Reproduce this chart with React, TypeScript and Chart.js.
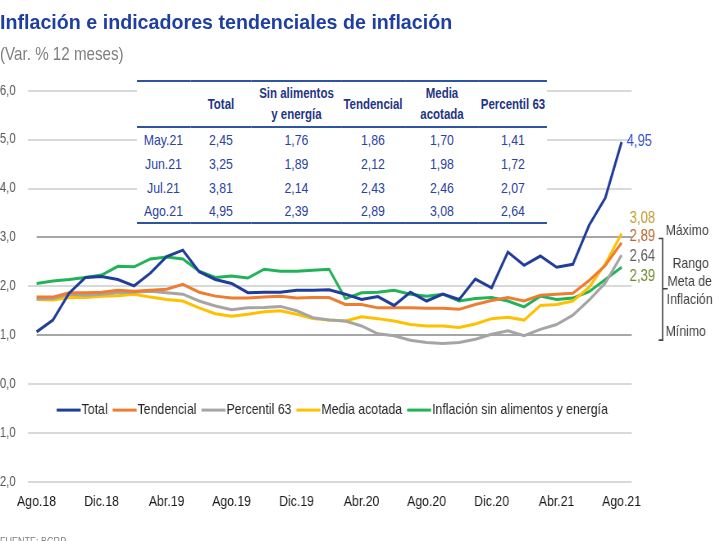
import React, { useEffect, useRef } from "react";
import { Chart, registerables } from "chart.js";
Chart.register(...registerables);

const FONT = "'Liberation Sans', Arial, sans-serif";

const months = ["Ago.18","Set.18","Oct.18","Nov.18","Dic.18","Ene.19","Feb.19","Mar.19","Abr.19","May.19","Jun.19","Jul.19","Ago.19","Set.19","Oct.19","Nov.19","Dic.19","Ene.20","Feb.20","Mar.20","Abr.20","May.20","Jun.20","Jul.20","Ago.20","Set.20","Oct.20","Nov.20","Dic.20","Ene.21","Feb.21","Mar.21","Abr.21","May.21","Jun.21","Jul.21","Ago.21"];
const tickIndices = [0, 4, 8, 12, 16, 20, 24, 28, 32, 36];

const total = [1.07,1.31,1.86,2.18,2.20,2.14,2.01,2.27,2.61,2.74,2.30,2.14,2.06,1.87,1.88,1.88,1.92,1.92,1.93,1.84,1.73,1.79,1.61,1.88,1.70,1.84,1.73,2.15,1.97,2.70,2.43,2.62,2.39,2.45,3.25,3.81,4.95];
const tendencial = [1.78,1.78,1.87,1.87,1.88,1.92,1.90,1.92,1.94,2.04,1.88,1.80,1.76,1.76,1.78,1.80,1.76,1.77,1.77,1.63,1.63,1.56,1.56,1.56,1.55,1.55,1.53,1.63,1.71,1.77,1.70,1.82,1.84,1.86,2.12,2.43,2.89];
const percentil63 = [1.74,1.75,1.84,1.82,1.84,1.87,1.88,1.90,1.87,1.84,1.70,1.60,1.52,1.56,1.57,1.59,1.50,1.36,1.31,1.29,1.19,1.03,0.99,0.90,0.85,0.83,0.85,0.92,1.02,1.09,0.99,1.12,1.22,1.41,1.72,2.07,2.64];
const mediaAcotada = [1.73,1.72,1.77,1.77,1.80,1.81,1.84,1.78,1.73,1.70,1.56,1.44,1.39,1.43,1.48,1.50,1.43,1.34,1.31,1.29,1.38,1.34,1.29,1.22,1.19,1.19,1.16,1.23,1.34,1.37,1.31,1.61,1.63,1.70,1.98,2.46,3.08];
const sinAlimentos = [2.06,2.11,2.14,2.18,2.23,2.41,2.40,2.56,2.60,2.56,2.31,2.18,2.21,2.17,2.35,2.31,2.31,2.33,2.35,1.75,1.87,1.88,1.92,1.84,1.80,1.84,1.70,1.75,1.77,1.70,1.58,1.80,1.73,1.76,1.89,2.14,2.39];

const seriesLabels = ["Total", "Tendencial", "Percentil 63", "Media acotada", "Inflación sin alimentos y energía"];
const tableHeaders = ["Total", "Sin alimentos|y energía", "Tendencial", "Media|acotada", "Percentil 63"];
const tableRowCount = 4;
const targetMax = 3;
const targetMin = 1;

const seriesData = [total, tendencial, percentil63, mediaAcotada, sinAlimentos];
const tableSeries = [total, sinAlimentos, tendencial, mediaAcotada, percentil63];
const lineColors = ["#1F3D99", "#ED7D31", "#A5A5A5", "#FFC000", "#22B257"];
const valueColors = ["#3350C8", "#B8692F", "#5E5E5E", "#C29A2C", "#6E8A2C"];
const valueDy = [0, -6, 2, -14.5, 9];

const fmt = (v: number, d: number) => v.toFixed(d).replace(".", ",");

// horizontal condensation (narrow-font look)
const S = 0.82;
const P = (v: number) => v / S;
const OFF = 30;
const CW = Math.round((725 + OFF) / S);
const CH = 541;

const overlay = {
  id: "overlay",
  beforeDatasetsDraw(chart: any) {
    const { ctx, chartArea, scales } = chart;
    const x = scales.x, y = scales.y;
    ctx.save();
    ctx.strokeStyle = "#A6A6A6";
    ctx.lineWidth = 2;
    [targetMax, targetMin].forEach((v) => {
      const py = Math.round(y.getPixelForValue(v));
      ctx.beginPath();
      ctx.moveTo(x.getPixelForValue(0), py);
      ctx.lineTo(chartArea.right, py);
      ctx.stroke();
    });
    ctx.restore();
  },
  afterDatasetsDraw(chart: any) {
    const { ctx, chartArea, scales } = chart;
    const x = scales.x, y = scales.y;
    ctx.save();
    // legend
    ctx.font = `15px ${FONT}`;
    ctx.textBaseline = "middle";
    ctx.textAlign = "left";
    let lx = chartArea.left + P(29);
    const ly = y.getPixelForValue(-0.53);
    seriesLabels.forEach((lab, i) => {
      ctx.strokeStyle = lineColors[i];
      ctx.lineWidth = 3;
      ctx.beginPath();
      ctx.moveTo(lx, ly);
      ctx.lineTo(lx + P(24), ly);
      ctx.stroke();
      lx += P(25);
      ctx.fillStyle = "#262626";
      ctx.fillText(lab, lx, ly);
      lx += ctx.measureText(lab).width + P(5);
    });
    // last values
    ctx.font = `16px ${FONT}`;
    const lastIdx = months.length - 1;
    const px = x.getPixelForValue(lastIdx);
    seriesData.forEach((arr, i) => {
      const v = arr[lastIdx];
      ctx.fillStyle = valueColors[i];
      ctx.fillText(fmt(v, 2), px + P(i === 0 ? 5 : 8), y.getPixelForValue(v) + valueDy[i]);
    });
    // bracket
    const bx = chartArea.right + P(31);
    const yTop = y.getPixelForValue(targetMax) + 1;
    const yBot = y.getPixelForValue(targetMin - 0.1);
    const yMid = y.getPixelForValue((targetMax + targetMin) / 2 - 0.05);
    ctx.strokeStyle = "#404040";
    ctx.lineWidth = 1.6;
    ctx.beginPath();
    ctx.moveTo(bx - P(4), yTop);
    ctx.lineTo(bx, yTop);
    ctx.lineTo(bx, yBot);
    ctx.lineTo(bx - P(4), yBot);
    ctx.moveTo(bx, yMid);
    ctx.lineTo(bx + P(5), yMid);
    ctx.stroke();
    ctx.fillStyle = "#404040";
    ctx.font = `15px ${FONT}`;
    ctx.textAlign = "left";
    ctx.fillText("Máximo", bx + P(3), y.getPixelForValue(targetMax) - 7);
    ctx.fillText("Mínimo", bx + P(3), y.getPixelForValue(targetMin) - 3.5);
    ctx.textAlign = "center";
    const y2 = y.getPixelForValue((targetMax + targetMin) / 2);
    ctx.fillText("Rango", bx + P(28), y2 - 22);
    ctx.fillText("Meta de", bx + P(27), y2 - 4);
    ctx.fillText("Inflación", bx + P(27), y2 + 14);
    ctx.restore();
  },
};

function DataTable() {
  const start = months.length - tableRowCount;
  const rows = Array.from({ length: tableRowCount }, (_, r) => start + r);
  const colW = [53, 62, 89, 64, 74, 68];
  const border = "2px solid #2F55A0";
  return (
    <table
      style={{
        position: "absolute", left: P(137), top: 80, width: P(410), borderCollapse: "collapse",
        tableLayout: "fixed", background: "#fff", fontFamily: FONT,
      }}
    >
      <colgroup>{colW.map((w, i) => <col key={i} style={{ width: P(w) }} />)}</colgroup>
      <thead>
        <tr style={{ height: 46, borderTop: border, borderBottom: border }}>
          <th style={{ padding: 0 }}></th>
          {tableHeaders.map((h, i) => (
            <th key={i} style={{ fontSize: 14, lineHeight: "21px", color: "#1F3585", fontWeight: "bold", padding: 0, textAlign: "center", whiteSpace: "nowrap" }}>
              {h.split("|").map((p, j) => <div key={j}>{p}</div>)}
            </th>
          ))}
        </tr>
      </thead>
      <tbody>
        {rows.map((idx, r) => (
          <tr key={r} style={{ height: 24, borderBottom: r === rows.length - 1 ? border : undefined }}>
            <td style={{ fontSize: 15, color: "#2B43A0", textAlign: "center", padding: 0 }}>{months[idx]}</td>
            {tableSeries.map((arr, c) => (
              <td key={c} style={{ fontSize: 15, color: "#2B43A0", textAlign: "center", padding: 0 }}>{fmt(arr[idx], 2)}</td>
            ))}
          </tr>
        ))}
      </tbody>
    </table>
  );
}

export default function App() {
  const ref = useRef<HTMLCanvasElement>(null);
  useEffect(() => {
    if (!ref.current) return;
    const chart = new Chart(ref.current, {
      type: "line",
      data: {
        datasets: seriesData.map((arr, i) => ({
          label: seriesLabels[i],
          data: arr.map((v, k) => ({ x: k, y: v })),
          borderColor: lineColors[i],
          backgroundColor: lineColors[i],
          borderWidth: 3,
          pointRadius: 0,
          tension: 0,
          fill: false,
        })),
      },
      options: {
        animation: false,
        responsive: false,
        devicePixelRatio: 1,
        layout: { padding: { left: 0, top: 90.7, right: CW - P(632 + OFF), bottom: 19 } },
        plugins: { legend: { display: false }, tooltip: { enabled: false }, title: { display: false } },
        scales: {
          x: {
            type: "linear",
            min: -0.55,
            max: 36.62,
            grid: { display: false, drawTicks: false },
            border: { display: false },
            afterBuildTicks: (axis: any) => { axis.ticks = tickIndices.map((v) => ({ value: v })); },
            afterFit: (axis: any) => { axis.height = 40; },
            ticks: {
              autoSkip: false,
              maxRotation: 0,
              padding: 11,
              color: "#1A1A1A",
              font: { family: FONT, size: 15 },
              callback: (v: any) => months[Math.round(Number(v))],
            },
          },
          y: {
            min: -2,
            max: 6,
            afterFit: (axis: any) => { axis.width = P(28 + OFF); },
            grid: {
              drawTicks: false,
              lineWidth: 2,
              color: (c: any) => (c.tick && (c.tick.value === targetMax || c.tick.value === targetMin) ? "rgba(0,0,0,0)" : "#D9D9D9"),
            },
            border: { display: false },
            ticks: {
              stepSize: 1,
              padding: P(12),
              color: "#595959",
              font: { family: FONT, size: 14 },
              callback: (v: any) => fmt(Number(v), 1),
            },
          },
        },
      },
      plugins: [overlay],
    });
    return () => chart.destroy();
  }, []);

  return (
    <div>
      <div style={{ position: "fixed", left: 0, top: 0, width: P(725), height: CH, transform: `scaleX(${S})`, transformOrigin: "0 0", background: "#fff", overflow: "visible" }}>
        <canvas ref={ref} width={CW} height={CH} style={{ position: "absolute", left: -P(OFF), top: 0, width: CW, height: CH, display: "block" }} />
        <div style={{ position: "absolute", left: 0, top: 45.3, fontFamily: FONT, fontSize: 18.5, lineHeight: "18.5px", color: "#7F7F7F", whiteSpace: "nowrap" }}>
          (Var. % 12 meses)
        </div>
        <DataTable />
        <div style={{ position: "absolute", left: 0, top: 536, fontFamily: FONT, fontSize: 11, lineHeight: "11px", color: "#7F7F7F", whiteSpace: "nowrap" }}>
          FUENTE: BCRP
        </div>
      </div>
      <div style={{ position: "fixed", left: 0, top: 11, fontFamily: FONT, fontWeight: "bold", fontSize: 21, lineHeight: "21px", color: "#1F3FA0", whiteSpace: "nowrap", transform: "scaleX(0.936)", transformOrigin: "0 0" }}>
        Inflación e indicadores tendenciales de inflación
      </div>
    </div>
  );
}
